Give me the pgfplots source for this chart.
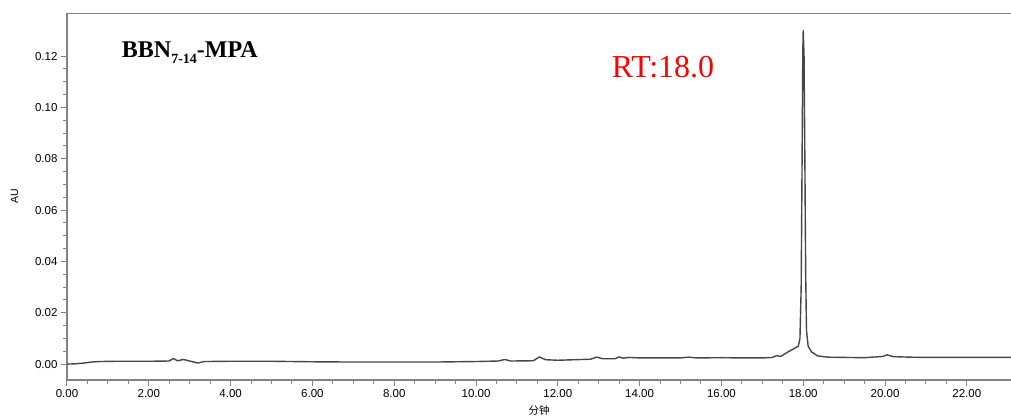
\documentclass[border=0pt]{standalone}
\usepackage{pgfplots}
\pgfplotsset{compat=1.18}
\usepackage{fontspec}
\setmainfont{Liberation Sans}
\newfontfamily\timesf{Liberation Serif}
\newfontfamily\cjk{Noto Sans CJK SC}
\definecolor{axgray}{RGB}{130,130,130}
\definecolor{trace}{RGB}{70,70,70}
\begin{document}
\begin{tikzpicture}
\begin{axis}[
  scale only axis,
  width=944pt, height=367pt,
  xmin=0, xmax=23.08, ymin=-0.0062, ymax=0.1368,
  axis lines=left,
  axis line style={axgray, line width=1.2pt, -},
  xtick={0,2,...,22}, ytick={0,0.02,...,0.121},
  minor x tick num=3, minor y tick num=3,
  tick align=outside,
  major tick length=6pt, minor tick length=4pt,
  every tick/.style={axgray, line width=1pt},
  xticklabel style={/pgf/number format/.cd, fixed, fixed zerofill, precision=2, assume math mode=true},
  yticklabel style={/pgf/number format/.cd, fixed, fixed zerofill, precision=2, assume math mode=true},
  scaled y ticks=false,
  tick label style={font=\fontsize{11.5}{13}\selectfont, black},
  xlabel={\cjk 分钟}, ylabel={AU},
  xlabel style={font=\fontsize{10.5}{12}\selectfont, yshift=-1pt},
  ylabel style={font=\fontsize{10.5}{12}\selectfont, yshift=10pt},
  clip=true,
]
\addplot[trace, line width=1.4pt, line join=round] coordinates {
(0.00,0.0000) (0.20,0.0001) (0.40,0.0004) (0.60,0.0008) (0.80,0.0010)
(1.20,0.0011) (2.00,0.0011) (2.50,0.0012) (2.60,0.0022) (2.70,0.0013)
(2.85,0.0018) (3.00,0.0012) (3.20,0.0004) (3.35,0.0010) (4.00,0.0011)
(5.00,0.0011) (6.00,0.0009) (7.00,0.0008) (8.00,0.0008) (9.00,0.0008)
(10.00,0.0010) (10.55,0.0012) (10.70,0.0018) (10.85,0.0012) (11.40,0.0013)
(11.55,0.0028) (11.70,0.0017) (12.00,0.0015) (12.80,0.0019) (12.95,0.0027)
(13.10,0.0021) (13.40,0.0021) (13.50,0.0028) (13.60,0.0023) (13.75,0.0026)
(14.00,0.0024) (15.00,0.0024) (15.20,0.0027) (15.40,0.0024) (16.00,0.0025)
(16.50,0.0024) (17.00,0.0024) (17.25,0.0026) (17.35,0.0033) (17.45,0.0030)
(17.60,0.0045) (17.75,0.0058) (17.88,0.0070) (17.92,0.0100) (17.95,0.0300)
(17.97,0.0750) (17.99,0.1220) (18.00,0.1300) (18.02,0.1200) (18.04,0.0800)
(18.06,0.0350) (18.08,0.0130) (18.12,0.0070) (18.20,0.0048) (18.35,0.0032)
(18.60,0.0027) (19.00,0.0026) (19.50,0.0025) (19.95,0.0030) (20.05,0.0036)
(20.20,0.0029) (20.60,0.0027) (21.00,0.0026) (22.00,0.0026) (23.08,0.0026)
};
\draw[axgray, line width=1.2pt] (rel axis cs:0,1) -- (rel axis cs:1,1);
\node[anchor=base west, inner sep=0pt, font=\timesf\bfseries\fontsize{24}{28}\selectfont] at (rel axis cs:0.058,0.88) {BBN\raisebox{-6pt}{\fontsize{14}{16}\selectfont 7-14}-MPA};
\node[anchor=base west, inner sep=0pt, text=red, font=\timesf\fontsize{32}{36}\selectfont] at (rel axis cs:0.577,0.823) {RT:18.0};
\end{axis}
\pgfresetboundingbox
\path ([shift={(-67pt,-39pt)}]current axis.south west) rectangle ([shift={(0pt,13pt)}]current axis.north east);
\end{tikzpicture}
\end{document}
